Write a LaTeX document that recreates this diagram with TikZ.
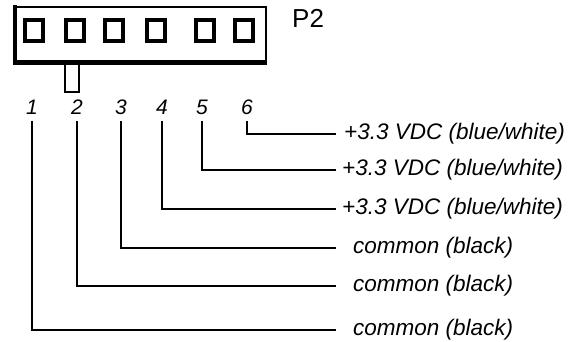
\documentclass[tikz,border=0pt]{standalone}
\usepackage{fontspec}
\setmainfont{Liberation Sans}
\usepackage{tikz}
\usetikzlibrary{positioning}

\begin{document}
\begin{tikzpicture}[x=1pt, y=-1pt,
    pin/.style={draw, line width=4pt, minimum width=18pt, minimum height=21pt, inner sep=0pt},
    num/.style={font=\fontsize{21}{23}\selectfont\itshape, inner xsep=0pt, inner ysep=6pt},
    wire/.style={font=\fontsize{22.5}{25}\selectfont\itshape, anchor=west, inner sep=0pt},
    lead/.style={line width=1.2pt}]
  \useasboundingbox (0,0) rectangle (574,341);
  % housing
  \draw[line width=2.5pt] (13,7) -- (267,7);
  \draw[line width=2pt] (266,6) -- (266,63);
  \draw[line width=5pt] (13,62) -- (267,62);
  \draw[line width=4.5pt] (15,5) -- (15,64.5);
  \draw[line width=2pt] (65,64) rectangle (79,92);
  \node[anchor=base west, inner sep=0pt, font=\fontsize{26}{28}\selectfont] (p2) at (292,27) {P2};
  % pins
  \node[pin] (pin1) at (34,30.5) {};
  \node[pin] (pin2) at (75,30.5) {};
  \node[pin] (pin3) at (114,30.5) {};
  \node[pin] (pin4) at (156,30.5) {};
  \node[pin] (pin5) at (204.5,30.5) {};
  \node[pin] (pin6) at (243.5,30.5) {};
  % pin numbers
  \node[num] (n1) at (32,107.5) {1};
  \node[num] (n2) at (77,107.5) {2};
  \node[num] (n3) at (121,107.5) {3};
  \node[num] (n4) at (162,107.5) {4};
  \node[num] (n5) at (202,107.5) {5};
  \node[num] (n6) at (247,107.5) {6};
  % wire ends
  \coordinate (e6) at (336,134);
  \coordinate (e5) at (336,170);
  \coordinate (e4) at (336,209);
  \coordinate (e3) at (336,248);
  \coordinate (e2) at (336,286);
  \coordinate (e1) at (336,330);
  \node[wire, xshift=8pt] (w6) at (e6) {+3.3 VDC (blue/white)};
  \node[wire, xshift=6pt] (w5) at (e5) {+3.3 VDC (blue/white)};
  \node[wire, xshift=6pt] (w4) at (e4) {+3.3 VDC (blue/white)};
  \node[wire, xshift=17pt] (w3) at (e3) {common (black)};
  \node[wire, xshift=17pt] (w2) at (e2) {common (black)};
  \node[wire, xshift=17pt] (w1) at (e1) {common (black)};
  \draw[lead] (n6.south) |- (e6);
  \draw[lead] (n5.south) |- (e5);
  \draw[lead] (n4.south) |- (e4);
  \draw[lead] (n3.south) |- (e3);
  \draw[lead] (n2.south) |- (e2);
  \draw[lead] (n1.south) |- (e1);

\end{tikzpicture}
\end{document}
